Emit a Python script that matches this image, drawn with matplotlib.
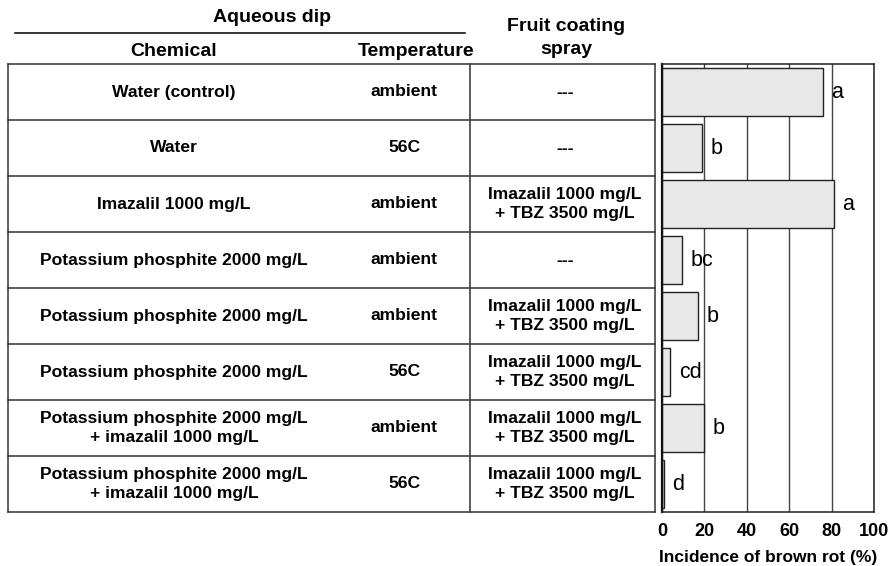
import matplotlib.pyplot as plt

plt.rcParams['font.family'] = ['Liberation Sans', 'DejaVu Sans']

chemicals = ['Water (control)', 'Water', 'Imazalil 1000 mg/L',
             'Potassium phosphite 2000 mg/L', 'Potassium phosphite 2000 mg/L',
             'Potassium phosphite 2000 mg/L',
             'Potassium phosphite 2000 mg/L\n+ imazalil 1000 mg/L',
             'Potassium phosphite 2000 mg/L\n+ imazalil 1000 mg/L']
temperatures = ['ambient', '56C', 'ambient', 'ambient', 'ambient', '56C', 'ambient', '56C']
coat = 'Imazalil 1000 mg/L\n+ TBZ 3500 mg/L'
sprays = ['---', '---', coat, '---', coat, coat, coat, coat]
incidence = [76, 19, 81, 9.5, 17, 4, 20, 1]
letters = ['a', 'b', 'a', 'bc', 'b', 'cd', 'b', 'd']

W, H = 891, 566
fig = plt.figure(figsize=(W / 100, H / 100), dpi=100)

# table drawn in pixel coordinates on a full-figure axes
tab = fig.add_axes([0, 0, 1, 1])
tab.set_xlim(0, W)
tab.set_ylim(H, 0)
tab.axis('off')

top, row_h = 64, 56
left, mid, right = 8, 470, 655
line_kw = dict(color='#333333', lw=1.1)

hdr = dict(fontsize=14, fontweight='bold', ha='center', va='center')
tab.text(272, 17, 'Aqueous dip', **hdr)
tab.plot([15, 465], [33, 33], color='black', lw=1.1)
tab.text(174, 51, 'Chemical', **hdr)
tab.text(416, 51, 'Temperature', **hdr)
tab.text(566, 38, 'Fruit coating\nspray', linespacing=1.45, **hdr)

n = len(chemicals)
for i in range(n + 1):
    tab.plot([left, right], [top + i * row_h] * 2, **line_kw)
tab.plot([left, left], [top, top + n * row_h], **line_kw)
tab.plot([mid, mid], [top, top + n * row_h], **line_kw)
tab.plot([right, right], [top, top + n * row_h], **line_kw)

cell = dict(fontsize=12.6, fontweight='bold', ha='center', va='center', linespacing=1.35)
for i in range(n):
    yc = top + (i + 0.5) * row_h
    tab.text(174, yc, chemicals[i], **cell)
    tab.text(404, yc, temperatures[i], **cell)
    tab.text(565, yc, sprays[i], **cell)

# bar chart
ax = fig.add_axes([662 / W, 1 - 512 / H, 212 / W, 448 / H])
rows = list(range(n))
ax.set_axisbelow(True)
ax.barh(rows, incidence, height=0.85, color='#e8e8e8', edgecolor='#222222', lw=1)
for r, v, s in zip(rows, incidence, letters):
    ax.annotate(s, (v, r), xytext=(6, 0), textcoords='offset points',
                ha='left', va='center', fontsize=15.5)

ax.set_xlim(0, 100)
ax.set_ylim(n - 0.5, -0.5)
ax.set_xticks([0, 20, 40, 60, 80, 100])
ax.set_yticks([])
ax.xaxis.grid(True, color='#444444', lw=1)
ax.tick_params(axis='x', length=0, pad=8, labelsize=13)
for lab in ax.get_xticklabels():
    lab.set_fontweight('bold')
ax.set_xlabel('Incidence of brown rot (%)', fontsize=12.5, fontweight='bold', labelpad=7)
for side in ['top', 'bottom', 'right']:
    ax.spines[side].set_color('#222222')
    ax.spines[side].set_linewidth(1.1)
ax.spines['left'].set_color('#111111')
ax.spines['left'].set_linewidth(1.6)

fig.savefig('out.png', dpi=100)
